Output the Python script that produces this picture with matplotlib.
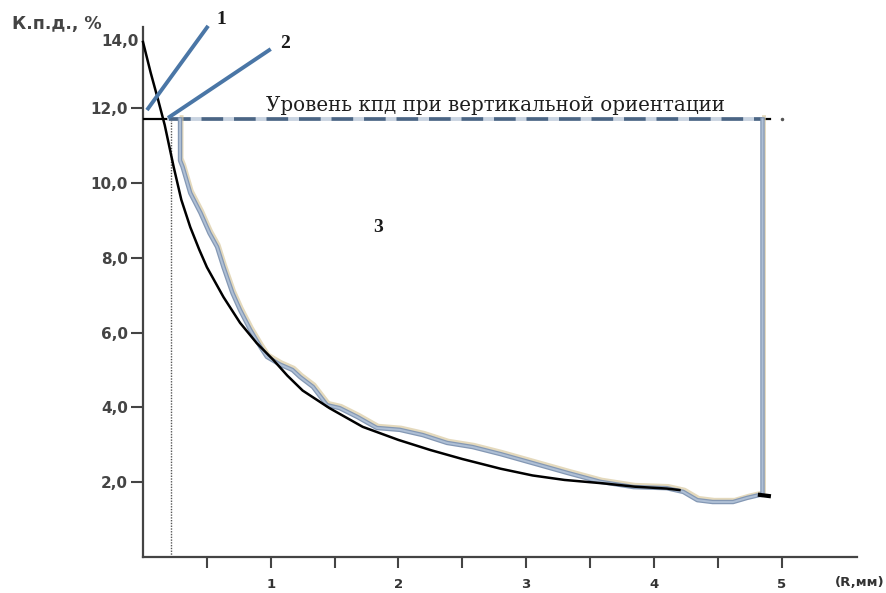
import matplotlib
matplotlib.use("Agg")
import matplotlib.pyplot as plt

# ---- data ----
fit_x = [0.0, 0.06, 0.12, 0.17, 0.24, 0.30, 0.37, 0.44, 0.50, 0.63, 0.76, 0.89, 1.02, 1.13, 1.25, 1.46, 1.72,
         2.00, 2.25, 2.50, 2.80, 3.05, 3.30, 3.60, 3.85, 4.10, 4.20]
fit_y = [13.77, 12.95, 12.2, 11.55, 10.43, 9.55, 8.82, 8.22, 7.75, 6.95, 6.26, 5.72, 5.27, 4.85, 4.45, 3.98, 3.48,
         3.13, 2.86, 2.62, 2.36, 2.18, 2.06, 1.97, 1.88, 1.83, 1.79]

meas_x = [0.29, 0.29, 0.31, 0.37, 0.45, 0.52, 0.58, 0.63, 0.70, 0.76, 0.84, 0.92, 0.97, 1.07,
          1.17, 1.23, 1.33, 1.44, 1.54, 1.68, 1.83, 2.01, 2.19, 2.38, 2.58, 2.80, 3.05, 3.32,
          3.58, 3.84, 4.10, 4.23, 4.34, 4.46, 4.62, 4.73, 4.83, 4.85, 4.85]
meas_y = [11.70, 10.6, 10.43, 9.73, 9.20, 8.66, 8.29, 7.75, 7.06, 6.60, 6.07, 5.61, 5.35, 5.15,
          5.00, 4.81, 4.55, 4.06, 3.98, 3.74, 3.45, 3.40, 3.26, 3.05, 2.94, 2.75, 2.51, 2.25,
          2.01, 1.87, 1.84, 1.74, 1.52, 1.47, 1.47, 1.58, 1.66, 1.66, 11.70]

level_y = 11.7
level_x_end = 4.91
cut_x = 0.22

y_ticks = [2, 4, 6, 8, 10, 12]
y_tick_labels = ["2,0", "4,0", "6,0", "8,0", "10,0", "12,0"]
y_top_label = "14,0"
x_ticks = [0.5, 1, 1.5, 2, 2.5, 3, 3.5, 4, 4.5, 5]
x_tick_labels = ["", "1", "", "2", "", "3", "", "4", "", "5"]

level_text = "Уровень кпд при вертикальной ориентации"
y_label = "К.п.д., %"
x_label = "(R,мм)"

# ---- figure ----
fig = plt.figure(figsize=(8.86, 5.93), dpi=100)
ax = fig.add_axes([143/886, 36/593, 714/886, 530/593])
ax.set_xlim(0, 5.59)
ax.set_ylim(0, 14.17)

for s in ["top", "right"]:
    ax.spines[s].set_visible(False)
for s in ["left", "bottom"]:
    ax.spines[s].set_color("#444444")
    ax.spines[s].set_linewidth(1.6)

ax.set_yticks(y_ticks)
ax.set_yticklabels(y_tick_labels)
ax.set_xticks(x_ticks)
ax.set_xticklabels(x_tick_labels)
ax.tick_params(axis="y", direction="out", length=9, width=1.5, color="#444444",
               labelsize=11, labelcolor="#444444", pad=2)
ax.tick_params(axis="x", direction="out", length=8, width=1.5, color="#444444",
               labelsize=9.5, labelcolor="#333333", pad=7)
for lab in ax.get_yticklabels() + ax.get_xticklabels():
    lab.set_fontweight("bold")

# top y label (no tick)
ax.text(-0.03, 13.77, y_top_label, ha="right", va="center", fontsize=11,
        fontweight="bold", color="#444444", clip_on=False)
fig.text(12/886, 1 - 24/593, y_label, ha="left", va="center", fontsize=12.5,
         fontweight="bold", color="#444444")
fig.text(884/886, 1 - 582/593, x_label, ha="right", va="center", fontsize=9.5,
         fontweight="bold", color="#333333")

# cut-off dotted line
ax.plot([cut_x, cut_x], [0, level_y], color="#555555", lw=1.0, ls=(0, (1, 1)))

# level line
ax.plot([0, level_x_end], [level_y, level_y], color="black", lw=1.6, zorder=3)
ax.plot([0.2, 4.85], [level_y, level_y], color="#c8d4e2", lw=2.6, zorder=4)
ax.plot([0.2, 4.85], [level_y, level_y], color="#4b6584", lw=2.6, ls=(0, (6, 3)), zorder=5)
ax.plot([5.0], [level_y], marker="o", ms=1.5, color="#555555", zorder=5)

# measured curve (grey-blue with tan shadow)
mx_shadow = [x + 0.012 for x in meas_x]
my_shadow = [y + 0.06 for y in meas_y]
ax.plot(mx_shadow, my_shadow, color="#d9c9a0", lw=2.8, alpha=0.7, zorder=5,
        solid_joinstyle="round")
ax.plot(meas_x, meas_y, color="#8498b4", lw=3.2, zorder=6, solid_joinstyle="round")
ax.plot(meas_x, meas_y, color="#aebfd5", lw=1.4, zorder=7, solid_joinstyle="round")

# fitted curve
ax.plot(fit_x, fit_y, color="black", lw=1.8, zorder=8, clip_on=False,
        solid_joinstyle="round")
ax.plot([4.83, 4.9], [1.66, 1.63], color="black", lw=3, zorder=8)

# annotation lines
ax.plot([0.031, 0.51], [11.95, 14.2], color="#4a76a6", lw=2.8, zorder=9,
        clip_on=False, solid_capstyle="butt")
ax.plot([0.196, 1.0], [11.74, 13.58], color="#4a76a6", lw=2.8, zorder=9,
        clip_on=False, solid_capstyle="butt")
ax.text(0.61, 14.36, "1", fontsize=14, fontweight="bold", family="Liberation Serif",
        ha="center", va="center", color="#1a1a1a", clip_on=False)
ax.text(1.11, 13.74, "2", fontsize=14, fontweight="bold", family="Liberation Serif",
        ha="center", va="center", color="#1a1a1a", clip_on=False)
ax.text(1.84, 8.8, "3", fontsize=14, fontweight="bold", family="Liberation Serif",
        ha="center", va="center", color="#1a1a1a")

ax.text(2.76, 12.06, level_text, fontsize=14.3, family="DejaVu Serif",
        ha="center", va="center", color="#1e1e1e", zorder=10)

fig.savefig("out.png", dpi=100)
